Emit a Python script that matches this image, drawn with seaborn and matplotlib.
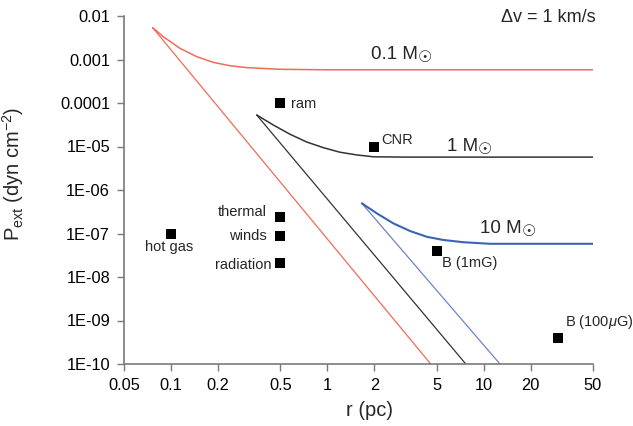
import matplotlib
matplotlib.use("Agg")
import matplotlib.pyplot as plt
import seaborn as sns
import numpy as np

# ---------------- data ----------------
red_line_r = [0.0763, 4.58]
red_line_p = [5.38e-3, 1e-10]
red_curve_r = [0.0763, 0.0892, 0.114, 0.146, 0.186, 0.238, 0.305, 0.50, 1.0, 50]
red_curve_p = [5.38e-3, 3.34e-3, 1.81e-3, 1.16e-3, 8.6e-4, 7.2e-4, 6.5e-4, 5.95e-4, 5.8e-4, 5.8e-4]

black_line_r = [0.353, 7.68]
black_line_p = [5.3e-5, 1e-10]
black_curve_r = [0.353, 0.451, 0.577, 0.737, 0.942, 1.20, 1.54, 1.97, 3.22, 50]
black_curve_p = [5.3e-5, 3.12e-5, 1.91e-5, 1.27e-5, 9.4e-6, 7.4e-6, 6.4e-6, 5.8e-6, 5.7e-6, 5.7e-6]

blue_line_r = [1.66, 12.7]
blue_line_p = [4.94e-7, 1e-10]
blue_curve_r = [1.66, 2.07, 2.64, 3.38, 4.32, 5.52, 7.41, 11.0, 50]
blue_curve_p = [4.94e-7, 2.91e-7, 1.71e-7, 1.14e-7, 8.4e-8, 7.1e-8, 6.3e-8, 5.8e-8, 5.8e-8]

point_names = ["ram", "CNR", "hot gas", "thermal", "winds", "radiation", "B (1mG)", "B (100$\\mu$G)"]
point_r = [0.5, 2.0, 0.1, 0.5, 0.5, 0.5, 5.0, 30.0]
point_p = [1e-4, 1e-5, 1e-7, 2.35e-7, 8.6e-8, 2.1e-8, 4.0e-8, 4.0e-10]

curve_labels = ["0.1 M", "1 M", "10 M"]

x_ticks = [0.05, 0.1, 0.2, 0.5, 1, 2, 5, 10, 20, 50]
x_ticklabels = ["0.05", "0.1", "0.2", "0.5", "1", "2", "5", "10", "20", "50"]
y_ticks = [1e-2, 1e-3, 1e-4, 1e-5, 1e-6, 1e-7, 1e-8, 1e-9, 1e-10]
y_ticklabels = ["0.01", "0.001", "0.0001", "1E-05", "1E-06", "1E-07", "1E-08", "1E-09", "1E-10"]

# ---------------- style ----------------
sns.set_style("ticks")
plt.rcParams['font.family'] = ['Liberation Sans', 'DejaVu Sans']
plt.rcParams['mathtext.fontset'] = 'custom'
plt.rcParams['mathtext.rm'] = 'Liberation Sans'
plt.rcParams['mathtext.it'] = 'Liberation Sans:italic'
plt.rcParams['mathtext.sf'] = 'Liberation Sans'
plt.rcParams['axes.unicode_minus'] = True

RED = "#f06a5c"
BLACK = "#333333"
BLUE = "#3a64b4"
BLUE_L = "#6c84c8"
GRAY = "#7a7a7a"

fig = plt.figure(figsize=(6.33, 4.26), dpi=100)
ax = fig.add_axes([124/633, 1-364/426, (593-124)/633, (364-16)/426])

def line(r, p, color, lw):
    sns.lineplot(x=r, y=p, ax=ax, color=color, linewidth=lw, sort=False,
                 estimator=None, legend=False)

line(red_line_r, red_line_p, RED, 0.9)
line(red_curve_r, red_curve_p, RED, 1.1)
line(black_line_r, black_line_p, BLACK, 0.9)
line(black_curve_r, black_curve_p, BLACK, 1.1)
line(blue_line_r, blue_line_p, BLUE_L, 0.9)
line(blue_curve_r, blue_curve_p, BLUE, 1.5)

sns.scatterplot(x=point_r, y=point_p, ax=ax, marker='s', s=42, color='black',
                edgecolor='black', linewidth=0, legend=False, zorder=5)

ax.set_xscale('log')
ax.set_yscale('log')
ax.set_xlim(0.05, 50)
ax.set_ylim(1e-10, 1e-2)
ax.set_xticks(x_ticks)
ax.set_xticklabels(x_ticklabels)
ax.set_yticks(y_ticks)
ax.set_yticklabels(y_ticklabels)
ax.minorticks_off()
ax.tick_params(axis='both', direction='out', length=5, width=1, color=GRAY,
               labelsize=11.8, labelcolor='black', pad=5)
for s in ['top', 'right']:
    ax.spines[s].set_visible(False)
for s in ['left', 'bottom']:
    ax.spines[s].set_color(GRAY)
    ax.spines[s].set_linewidth(1.2)

ax.set_xlabel("r (pc)", fontsize=14.5)
ax.set_ylabel("P$_{\\rm ext}$ (dyn cm$^{-2}$)", fontsize=14.5)
ax.xaxis.set_label_coords((369-124)/469, -(401-364)/348)
ax.yaxis.set_label_coords((26-124)/469, (364-174)/348)

# point labels (offsets in pixels)
offsets = [(11, -1, 'left'), (7, 6, 'left'), (-2, -13, 'center'), (-14, 5, 'right'),
           (-14, 0.5, 'right'), (-9, -2.5, 'right'), (5.5, -12, 'left'), (7, 16, 'left')]
for name, r, p, (dx, dy, ha) in zip(point_names, point_r, point_p, offsets):
    ax.annotate(name, (r, p), xytext=(dx, dy), textcoords='offset pixels',
                ha=ha, va='center', fontsize=10.5)

# curve labels: "M" followed by a lowered sun symbol
fam = ['Liberation Sans', 'DejaVu Sans']
label_pos = [(371, 59), (447, 151), (480, 233)]   # left, baseline (pixels)
for lab, (px, py) in zip(curve_labels, label_pos):
    t = fig.text(px/633, 1-py/426, lab, fontsize=13.5, ha='left', va='baseline', family=fam)
    fig.canvas.draw()
    ax.annotate("\u2609", xy=(1, 0), xycoords=t, xytext=(0, 1.5), textcoords='offset pixels',
                ha='left', va='baseline', fontsize=11.5, family=['DejaVu Sans'],
                annotation_clip=False)

fig.text(596/633, 1-18/426, "\u0394v = 1 km/s", fontsize=13, ha='right', va='center', family=fam)

fig.savefig("out.png", dpi=100)
